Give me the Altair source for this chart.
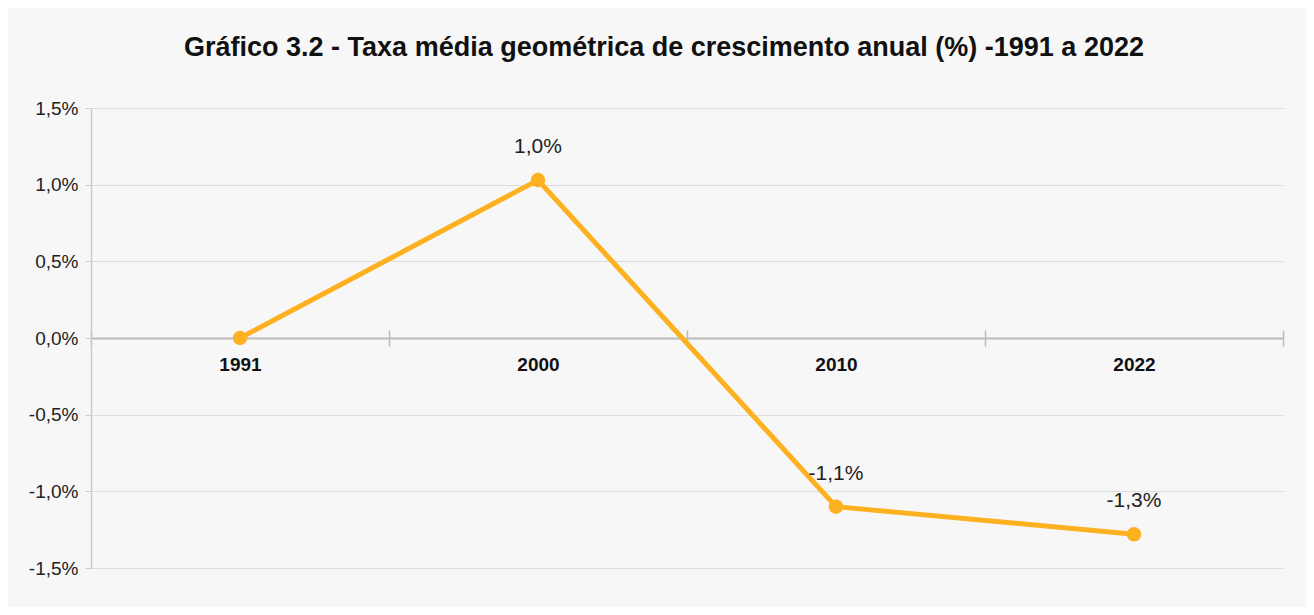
import altair as alt
import pandas as pd

years = ["1991", "2000", "2010", "2022"]
rates = [0.0, 1.03, -1.10, -1.28]
labels = ["", "1,0%", "-1,1%", "-1,3%"]
y_ticks = [-1.5, -1.0, -0.5, 0.0, 0.5, 1.0, 1.5]

df = pd.DataFrame({"ano": years, "taxa": rates, "rotulo": labels})

FONT = "Liberation Sans"
ORANGE = "#FDB120"

x_scale = alt.Scale(domain=years, paddingInner=0, paddingOuter=0)
y_scale = alt.Scale(domain=[-1.5, 1.5], nice=False, zero=False)

y_axis = alt.Axis(
    title=None, values=y_ticks,
    labelExpr="replace(replace(format(datum.value, '.1f'), '.', ','), '\u2212', '-') + '%'",
    labelFontSize=19, labelColor="#222222", labelFont=FONT, labelPadding=7,
    tickSize=6, tickColor="#cccccc", domainColor="#cccccc", domainWidth=1.5,
    gridColor="#dddddd", gridWidth=1,
)

x_axis_bottom = alt.Axis(
    title=None, orient="bottom", offset=-230, labelAngle=0,
    labelFontSize=19, labelFontWeight="bold", labelColor="#111111", labelFont=FONT,
    labelPadding=9, tickBand="extent", tickSize=8, tickColor="#bbbbbb", tickWidth=1.5,
    domainColor="#bbbbbb", domainWidth=2, grid=False,
)
x_axis_top = alt.Axis(
    title=None, orient="top", offset=-230, labels=False,
    tickBand="extent", tickSize=8, tickColor="#bbbbbb", tickWidth=1.5,
    domain=False, grid=False,
)

base = alt.Chart(df)

line = base.mark_line(color=ORANGE, strokeWidth=5).encode(
    x=alt.X("ano:N", scale=x_scale, axis=x_axis_bottom, sort=years),
    y=alt.Y("taxa:Q", scale=y_scale, axis=y_axis),
)
points = base.mark_point(filled=True, color=ORANGE, size=210, opacity=1).encode(
    x=alt.X("ano:N", scale=x_scale, axis=x_axis_top, sort=years),
    y=alt.Y("taxa:Q", scale=y_scale),
)
text = base.mark_text(dy=-33, fontSize=21, color="#222222", font=FONT).encode(
    x=alt.X("ano:N", scale=x_scale, axis=None, sort=years),
    y=alt.Y("taxa:Q", scale=y_scale),
    text="rotulo:N",
)

chart = (
    alt.layer(line, points, text)
    .resolve_axis(x="independent")
    .properties(
        width=1192, height=460,
        autosize=alt.AutoSizeParams(type="none"),
        padding={"left": 83, "top": 100, "right": 23, "bottom": 39},
        background="#f7f7f7",
        title=alt.TitleParams(
            "Gráfico 3.2 - Taxa média geométrica de crescimento anual (%) -1991 a 2022",
            font=FONT, fontSize=27, fontWeight="bold", color="#111111",
            anchor="middle", dx=-23, offset=37,
        ),
    )
    .configure_view(stroke=None)
)

chart.save("out.html", embed_options={"renderer": "svg", "actions": False})
